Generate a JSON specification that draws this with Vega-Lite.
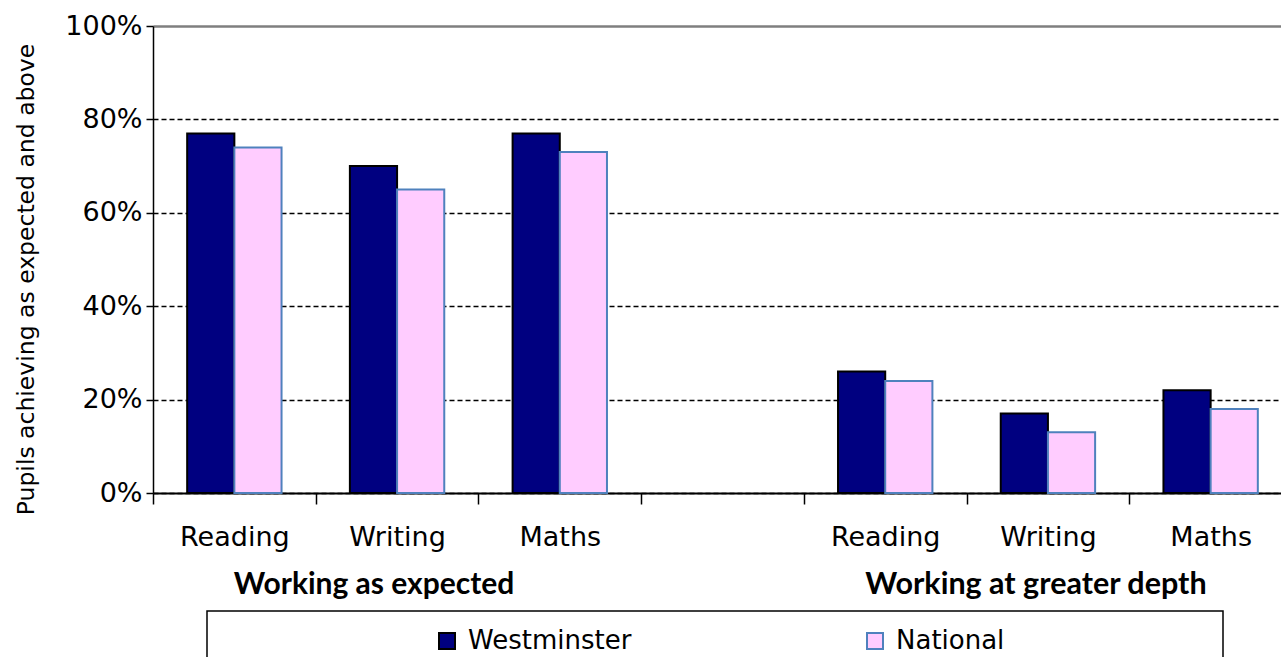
{
  "$schema": "https://vega.github.io/schema/vega-lite/v6.json",
  "autosize": "none",
  "width": 1128,
  "height": 467,
  "padding": {"left": 153, "top": 26, "right": 0, "bottom": 164},
  "background": "white",
  "config": {
    "view": {"stroke": null},
    "font": "DejaVu Sans",
    "legend": {
      "orient": "none",
      "legendX": 54,
      "legendY": 585,
      "direction": "horizontal",
      "padding": 17,
      "strokeColor": "black",
      "strokeWidth": 1.5,
      "symbolType": "square",
      "symbolSize": 256,
      "symbolStrokeWidth": 2,
      "labelFont": "DejaVu Sans",
      "labelFontSize": 26,
      "labelColor": "black",
      "labelOffset": 8,
      "labelLimit": 1000,
      "columnPadding": 230,
      "titleOrient": "left",
      "titlePadding": 210,
      "titleFontSize": 26
    }
  },
  "datasets": {
    "bars": [
      {"cat": "Reading|1", "series": "Westminster", "value": 0.77},
      {"cat": "Reading|1", "series": "National", "value": 0.74},
      {"cat": "Writing|1", "series": "Westminster", "value": 0.70},
      {"cat": "Writing|1", "series": "National", "value": 0.65},
      {"cat": "Maths|1", "series": "Westminster", "value": 0.77},
      {"cat": "Maths|1", "series": "National", "value": 0.73},
      {"cat": "Reading|2", "series": "Westminster", "value": 0.26},
      {"cat": "Reading|2", "series": "National", "value": 0.24},
      {"cat": "Writing|2", "series": "Westminster", "value": 0.17},
      {"cat": "Writing|2", "series": "National", "value": 0.13},
      {"cat": "Maths|2", "series": "Westminster", "value": 0.22},
      {"cat": "Maths|2", "series": "National", "value": 0.18}
    ],
    "groups": [
      {"cat": "Writing|1", "label": "Working as expected"},
      {"cat": "Writing|2", "label": "Working at greater depth"}
    ]
  },
  "layer": [
    {
      "data": {"name": "bars"},
      "mark": {"type": "bar", "strokeWidth": 2},
      "encoding": {
        "x": {
          "field": "cat",
          "type": "nominal",
          "title": null,
          "scale": {
            "domain": ["Reading|1", "Writing|1", "Maths|1", "|gap", "Reading|2", "Writing|2", "Maths|2"],
            "range": [0, 1139],
            "paddingInner": 0.42,
            "paddingOuter": 0.21
          },
          "axis": {
            "labelExpr": "split(datum.label, '|')[0]",
            "labelAngle": 0,
            "labelFont": "DejaVu Sans",
            "labelFontSize": 27,
            "labelColor": "black",
            "labelPadding": 20,
            "labelOffset": 81.36,
            "tickSize": 11,
            "tickColor": "black",
            "tickWidth": 1.5,
            "tickOffset": -81.36,
            "domainColor": "black",
            "domainWidth": 2,
            "grid": false
          }
        },
        "xOffset": {
          "field": "series",
          "type": "nominal",
          "scale": {"domain": ["Westminster", "National"], "paddingInner": 0, "paddingOuter": 0}
        },
        "y": {
          "field": "value",
          "type": "quantitative",
          "title": "Pupils achieving as expected and above",
          "scale": {"domain": [0, 1]},
          "axis": {
            "values": [0, 0.2, 0.4, 0.6, 0.8, 1],
            "format": ".0%",
            "titleFont": "DejaVu Sans",
            "titleFontSize": 23.5,
            "titleFontWeight": "normal",
            "titleColor": "black",
            "titleAngle": 270,
            "titleX": -120,
            "titleY": 253,
            "titleAlign": "center",
            "titleBaseline": "alphabetic",
            "labelFont": "DejaVu Sans",
            "labelFontSize": 27,
            "labelColor": "black",
            "labelPadding": 4,
            "tickSize": 7,
            "tickColor": "black",
            "tickWidth": 1.5,
            "domainColor": "black",
            "domainWidth": 1.5,
            "grid": true,
            "gridColor": {"condition": {"test": "datum.value === 1", "value": "#7f7f7f"}, "value": "black"},
            "gridWidth": {"condition": {"test": "datum.value === 1", "value": 2.5}, "value": 1.5},
            "gridDash": {"condition": {"test": "datum.value === 1", "value": []}, "value": [5, 3]}
          }
        },
        "fill": {
          "field": "series",
          "type": "nominal",
          "scale": {"domain": ["Westminster", "National"], "range": ["#000080", "#FFCCFF"]},
          "legend": {"title": "\u00a0", "labelExpr": "datum.label === 'National' ? datum.label + '\u00a0\u00a0\u00a0\u00a0\u00a0\u00a0\u00a0\u00a0\u00a0\u00a0\u00a0\u00a0\u00a0\u00a0\u00a0\u00a0\u00a0\u00a0\u00a0\u00a0\u00a0\u00a0\u2800' : datum.label"}
        },
        "stroke": {
          "field": "series",
          "type": "nominal",
          "scale": {"domain": ["Westminster", "National"], "range": ["#000000", "#4F81BD"]},
          "legend": {"title": "\u00a0", "labelExpr": "datum.label === 'National' ? datum.label + '\u00a0\u00a0\u00a0\u00a0\u00a0\u00a0\u00a0\u00a0\u00a0\u00a0\u00a0\u00a0\u00a0\u00a0\u00a0\u00a0\u00a0\u00a0\u00a0\u00a0\u00a0\u00a0\u2800' : datum.label"}
        }
      }
    },
    {
      "data": {"name": "groups"},
      "transform": [{"filter": "datum.cat === 'Writing|1'"}],
      "mark": {"type": "text", "font": "Lato", "fontWeight": "bold", "fontSize": 30, "dy": 101, "dx": -23, "baseline": "alphabetic", "align": "center", "color": "black"},
      "encoding": {
        "x": {"field": "cat", "type": "nominal", "title": null},
        "y": {"datum": 0, "type": "quantitative", "title": "Pupils achieving as expected and above"},
        "text": {"field": "label"}
      }
    },
    {
      "data": {"name": "groups"},
      "transform": [{"filter": "datum.cat === 'Writing|2'"}],
      "mark": {"type": "text", "font": "Lato", "fontWeight": "bold", "fontSize": 30.5, "dy": 101, "dx": -12, "baseline": "alphabetic", "align": "center", "color": "black"},
      "encoding": {
        "x": {"field": "cat", "type": "nominal", "title": null},
        "y": {"datum": 0, "type": "quantitative", "title": "Pupils achieving as expected and above"},
        "text": {"field": "label"}
      }
    }
  ]
}
